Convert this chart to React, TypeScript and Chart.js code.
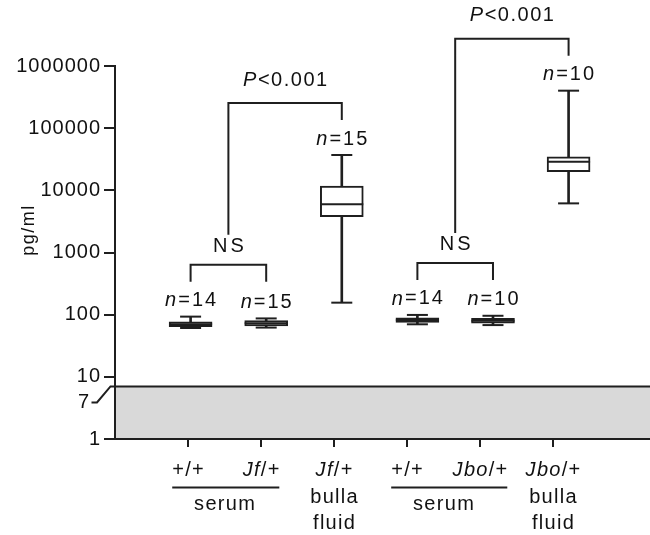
import { useEffect, useRef } from 'react';
import { Chart, registerables } from 'chart.js';

Chart.register(...registerables);

// ---------------- data ----------------
const categories = ['+/+ serum', 'Jf/+ serum', 'Jf/+ bulla fluid', '+/+ serum', 'Jbo/+ serum', 'Jbo/+ bulla fluid'];
const genotypeItalic = ['', 'Jf', 'Jf', '', 'Jbo', 'Jbo'];
const genotypePlain = ['+/+', '/+', '/+', '+/+', '/+', '/+'];
const sampleLines = [[], [], ['bulla', 'fluid'], [], [], ['bulla', 'fluid']];
const serumGroups = [[0, 1], [3, 4]];
const serumLabel = 'serum';
const nValues = [14, 15, 15, 14, 10, 10];
const whiskerMin = [61, 62, 156, 70, 68, 6170];
const q1 = [64, 66, 3770, 75, 73, 19900];
const median = [70, 73, 5960, 82, 80, 28800];
const q3 = [77, 80, 11700, 89, 87, 34700];
const whiskerMax = [93, 87, 37000, 99, 96, 401000];
const yTickValues = [1, 7, 10, 100, 1000, 10000, 100000, 1000000];
const brokenRange = [1, 7];
const nsPairs = [[0, 1], [3, 4]];
const nsLabel = 'NS';
const pComparisons = [{ pair: 0, target: 2 }, { pair: 1, target: 5 }];
const pItalic = 'P';
const pPlain = '<0.001';
const yTitle = 'pg/ml';

// ---------------- styles ----------------
const FONT = '"Liberation Sans", Arial, Helvetica, sans-serif';
const LINE = '#1f1f1f';
const TEXT = '#111111';

function drawMixed(ctx: CanvasRenderingContext2D, italic: string, plain: string, cx: number, cy: number, size: number, spacing: number) {
  ctx.letterSpacing = spacing + 'px';
  ctx.font = `italic ${size}px ${FONT}`;
  const wi = italic ? ctx.measureText(italic).width : 0;
  ctx.font = `${size}px ${FONT}`;
  const wp = ctx.measureText(plain).width;
  const total = wi + wp - spacing;
  let x = cx - total / 2;
  ctx.textAlign = 'left';
  ctx.textBaseline = 'middle';
  if (italic) {
    ctx.font = `italic ${size}px ${FONT}`;
    ctx.fillText(italic, x, cy);
    x += wi;
  }
  ctx.font = `${size}px ${FONT}`;
  ctx.fillText(plain, x, cy);
  return { left: cx - total / 2, right: cx + total / 2 };
}

const annotationPlugin = {
  id: 'annotations',
  beforeDraw(chart: any) {
    const { ctx, chartArea: ca, scales } = chart;
    ctx.letterSpacing = '1px';
    const y = scales.y;
    const yTop = y.getPixelForValue(brokenRange[1]);
    const yBot = y.getPixelForValue(brokenRange[0]);
    ctx.save();
    ctx.fillStyle = '#d9d9d9';
    ctx.fillRect(ca.left, yTop, ca.right - ca.left, yBot - yTop);
    ctx.strokeStyle = LINE;
    ctx.lineWidth = 2;
    ctx.beginPath();
    ctx.moveTo(ca.right, yTop);
    ctx.lineTo(ca.left - 4.5, yTop);
    ctx.lineTo(ca.left - 18, yTop + 16);
    ctx.lineTo(ca.left - 23.5, yTop + 16);
    ctx.stroke();
    ctx.fillStyle = TEXT;
    ctx.font = `20px ${FONT}`;
    ctx.letterSpacing = '1px';
    ctx.textAlign = 'right';
    ctx.textBaseline = 'middle';
    ctx.fillText(String(brokenRange[1]), ca.left - 25, yTop + 16.5);
    ctx.restore();
  },
  afterDraw(chart: any) {
    const { ctx, chartArea: ca, scales } = chart;
    const x = scales.x;
    const xt = scales.xt;
    const y = scales.y;
    ctx.save();
    ctx.fillStyle = TEXT;
    ctx.strokeStyle = LINE;
    ctx.lineWidth = 2;

    // y title
    ctx.save();
    ctx.translate(29, 230);
    ctx.rotate(-Math.PI / 2);
    ctx.font = `18px ${FONT}`;
    ctx.letterSpacing = '1.5px';
    ctx.textAlign = 'center';
    ctx.textBaseline = 'middle';
    ctx.fillText(yTitle, 0, 0);
    ctx.restore();

    // x labels
    const base = ca.bottom;
    const extents: { left: number; right: number }[] = [];
    categories.forEach((_, i) => {
      const tx = xt.getPixelForValue(i + 1);
      extents.push(drawMixed(ctx, genotypeItalic[i], genotypePlain[i], tx, base + 31, 20, 1.3));
      sampleLines[i].forEach((line, k) => {
        drawMixed(ctx, '', line, tx, base + 58 + k * 26.5, 20, 1.3);
      });
    });
    serumGroups.forEach(([a, b]) => {
      const l = extents[a].left;
      const r = extents[b].right;
      ctx.beginPath();
      ctx.moveTo(l, base + 48.5);
      ctx.lineTo(r, base + 48.5);
      ctx.stroke();
      const cx = (xt.getPixelForValue(a + 1) + xt.getPixelForValue(b + 1)) / 2;
      drawMixed(ctx, '', serumLabel, cx, base + 65, 20, 1.3);
    });

    // n labels
    categories.forEach((_, i) => {
      const cx = x.getPixelForValue(i + 1);
      const cy = y.getPixelForValue(whiskerMax[i]) - 16;
      drawMixed(ctx, 'n', '=' + nValues[i], cx, cy, 20, 2);
    });

    // NS brackets
    const nsInfo = nsPairs.map(([a, b]) => {
      const xa = x.getPixelForValue(a + 1);
      const xb = x.getPixelForValue(b + 1);
      const legBottom = Math.min(y.getPixelForValue(whiskerMax[a]), y.getPixelForValue(whiskerMax[b])) - 35;
      const horiz = legBottom - 17;
      ctx.beginPath();
      ctx.moveTo(xa, legBottom);
      ctx.lineTo(xa, horiz);
      ctx.lineTo(xb, horiz);
      ctx.lineTo(xb, legBottom);
      ctx.stroke();
      const textY = horiz - 18;
      drawMixed(ctx, '', nsLabel, (xa + xb) / 2, textY, 20, 3);
      return { cx: (xa + xb) / 2, textY };
    });

    // P brackets
    pComparisons.forEach(({ pair, target }) => {
      const ns = nsInfo[pair];
      const xl = ns.cx;
      const xr = x.getPixelForValue(target + 1);
      const leftBottom = ns.textY - 12;
      const rightBottom = y.getPixelForValue(whiskerMax[target]) - 35;
      const horiz = rightBottom - 17;
      ctx.beginPath();
      ctx.moveTo(xl, leftBottom);
      ctx.lineTo(xl, horiz);
      ctx.lineTo(xr, horiz);
      ctx.lineTo(xr, rightBottom);
      ctx.stroke();
      drawMixed(ctx, pItalic, pPlain, (xl + xr) / 2, horiz - 23, 20, 1.5);
    });
    ctx.restore();
  },
};

export default function App() {
  const ref = useRef<HTMLCanvasElement>(null);
  useEffect(() => {
    const whiskerData = categories.map((_, i) => ({ x: i + 1, y: [whiskerMin[i], whiskerMax[i]] }));
    const boxData = categories.map((_, i) => ({ x: i + 1, y: [q1[i], q3[i]] }));
    const medianData = categories.map((_, i) => ({ x: i + 1, y: median[i] }));
    const capData = categories.flatMap((_, i) => [
      { x: i + 1, y: whiskerMin[i] },
      { x: i + 1, y: whiskerMax[i] },
    ]);
    const chart = new Chart(ref.current as HTMLCanvasElement, {
      type: 'bar',
      data: {
        datasets: [
          {
            type: 'bar',
            data: whiskerData as any,
            xAxisID: 'x',
            yAxisID: 'y',
            barThickness: 2,
            backgroundColor: LINE,
            borderWidth: 0,
            grouped: false,
            order: 3,
          } as any,
          {
            type: 'bar',
            data: boxData as any,
            xAxisID: 'x',
            yAxisID: 'y',
            barThickness: 43,
            backgroundColor: '#ffffff',
            borderColor: LINE,
            borderWidth: 2,
            borderSkipped: false,
            grouped: false,
            order: 2,
          } as any,
          {
            type: 'scatter',
            data: medianData,
            xAxisID: 'x',
            yAxisID: 'y',
            pointStyle: 'line',
            pointRadius: 21.5,
            pointBorderColor: LINE,
            pointBorderWidth: 2,
            order: 1,
          } as any,
          {
            type: 'scatter',
            data: capData,
            xAxisID: 'x',
            yAxisID: 'y',
            pointStyle: 'line',
            pointRadius: 10.5,
            pointBorderColor: LINE,
            pointBorderWidth: 2,
            order: 1,
          } as any,
        ],
      },
      options: {
        animation: false,
        responsive: true,
        maintainAspectRatio: false,
        events: [],
        layout: { autoPadding: false, padding: { top: 66, left: 0, right: 0, bottom: 0 } },
        plugins: { legend: { display: false }, tooltip: { enabled: false } },
        scales: {
          x: {
            type: 'linear',
            display: false,
            offset: false,
            grid: { offset: false },
            min: 0,
            max: 7.077,
          },
          xt: {
            type: 'linear',
            axis: 'x',
            position: 'bottom',
            offset: false,
            min: 0,
            max: 7.33,
            afterBuildTicks: (s: any) => {
              s.ticks = categories.map((_, i) => ({ value: i + 1 }));
            },
            afterFit: (s: any) => {
              s.height = 96;
            },
            ticks: { display: false },
            grid: { offset: false, drawOnChartArea: false, drawTicks: true, tickLength: 8, lineWidth: 2, color: LINE },
            border: { display: true, color: LINE, width: 2 },
          } as any,
          y: {
            type: 'logarithmic',
            min: 1,
            max: 1000000,
            afterBuildTicks: (s: any) => {
              s.ticks = yTickValues.map((v) => ({ value: v }));
            },
            afterFit: (s: any) => {
              s.width = 115;
            },
            ticks: {
              autoSkip: false,
              padding: 3,
              color: TEXT,
              font: { size: 20, family: FONT },
              callback: (v: any) => (Number(v) === brokenRange[1] ? '' : String(v)),
            },
            grid: {
              drawOnChartArea: false,
              drawTicks: true,
              tickLength: 11,
              lineWidth: 2,
              color: LINE,
              tickColor: (c: any) => (c.tick && c.tick.value === brokenRange[1] ? 'rgba(0,0,0,0)' : LINE),
            },
            border: { display: true, color: LINE, width: 2 },
          } as any,
        },
      },
      plugins: [annotationPlugin],
    });
    return () => chart.destroy();
  }, []);
  return (
    <div style={{ position: 'absolute', left: 0, top: 0, width: 650, height: 535 }}>
      <canvas ref={ref} />
    </div>
  );
}
